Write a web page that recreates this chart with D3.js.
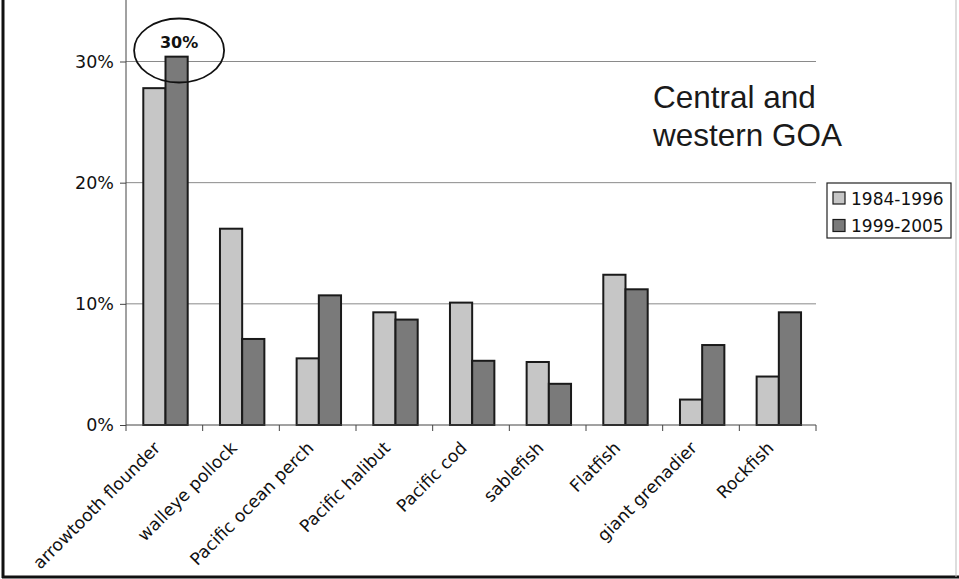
<!DOCTYPE html>
<html>
<head>
<meta charset="utf-8">
<script src="https://cdn.jsdelivr.net/npm/d3@7"></script>
<style>
  html, body { margin: 0; padding: 0; background: #fff; }
  svg { display: block; }
</style>
</head>
<body>
<svg id="chart" width="959" height="579"></svg>
<script>
// Species groups along the x axis
const categories = ["arrowtooth flounder", "walleye pollock", "Pacific ocean perch", "Pacific halibut",
  "Pacific cod", "sablefish", "Flatfish", "giant grenadier", "Rockfish"];
// Share of diet (%) per period
const period1 = [27.8, 16.2, 5.5, 9.3, 10.1, 5.2, 12.4, 2.1, 4.0];
const period2 = [30.4, 7.1, 10.7, 8.7, 5.3, 3.4, 11.2, 6.6, 9.3];
const seriesNames = ["1984-1996", "1999-2005"];
const yTicks = [0, 10, 20, 30];
const calloutLabel = "30%";
const regionLines = ["Central and", "western GOA"];

const svg = d3.select("#chart");
const fillColors = ["#c6c6c6", "#7a7a7a"];
const font = "'DejaVu Sans', Verdana, sans-serif";

// Outer frame
svg.append("line").attr("x1", 3).attr("x2", 3).attr("y1", 0).attr("y2", 578)
  .attr("stroke", "#111").attr("stroke-width", 3);
svg.append("line").attr("x1", 2).attr("x2", 959).attr("y1", 577).attr("y2", 577)
  .attr("stroke", "#111").attr("stroke-width", 3);
svg.append("line").attr("x1", 956).attr("x2", 956).attr("y1", 0).attr("y2", 577)
  .attr("stroke", "#bbb").attr("stroke-width", 1);

// One band per category, two bars inside each band
const x = d3.scaleBand().domain(categories).range([126, 816]).padding(0);
const xGroup = d3.scaleBand().domain([0, 1]).range([17.3, 61.7]);
const y = d3.scaleLinear().domain([0, 30]).range([425, 61.5]);

// Gridlines
svg.append("g").selectAll("line").data(yTicks.filter(d => d > 0)).join("line")
  .attr("x1", 126).attr("x2", 816)
  .attr("y1", d => y(d)).attr("y2", d => y(d))
  .attr("stroke", "#8a8a8a").attr("stroke-width", 1);

// Bars
const data = categories.map((c, i) => ({ c, vals: [period1[i], period2[i]] }));
const groups = svg.append("g").selectAll("g").data(data).join("g")
  .attr("transform", d => `translate(${x(d.c)},0)`);
groups.selectAll("rect").data(d => d.vals.map((v, k) => ({ v, k }))).join("rect")
  .attr("x", d => xGroup(d.k))
  .attr("width", xGroup.bandwidth())
  .attr("y", d => y(d.v))
  .attr("height", d => y(0) - y(d.v))
  .attr("fill", d => fillColors[d.k])
  .attr("stroke", "#1a1a1a").attr("stroke-width", 2);

// Y axis
const yAxis = d3.axisLeft(y).tickValues(yTicks).tickFormat(d => d + "%").tickSize(6).tickPadding(6);
const gy = svg.append("g").attr("transform", "translate(126,0)").call(yAxis);
gy.select(".domain").attr("d", "M0,0V425").attr("stroke", "#444");
gy.selectAll(".tick line").attr("stroke", "#444");
gy.selectAll(".tick text").attr("font-family", font).attr("font-size", 17.5).attr("fill", "#111");

// X axis with ticks on category boundaries
const xAxisG = svg.append("g").attr("transform", "translate(0,425)");
xAxisG.append("line").attr("x1", 126).attr("x2", 816).attr("stroke", "#444");
xAxisG.selectAll(".bt").data(categories.map(c => x(c)).concat([816])).join("line")
  .attr("x1", d => d).attr("x2", d => d)
  .attr("y1", 0).attr("y2", 6).attr("stroke", "#444");
xAxisG.selectAll("text").data(categories).join("text")
  .attr("transform", d => `translate(${x(d) + x.bandwidth() / 2 - 3},24) rotate(-45)`)
  .attr("text-anchor", "end")
  .attr("font-family", font).attr("font-size", 17.2).attr("fill", "#111")
  .text(d => d);

// Callout on the tallest bar
const topX = x(categories[0]) + xGroup(1) + xGroup.bandwidth() / 2 + 2.5;
svg.append("ellipse").attr("cx", topX).attr("cy", y(30) - 11).attr("rx", 45).attr("ry", 32)
  .attr("fill", "none").attr("stroke", "#111").attr("stroke-width", 1.8);
svg.append("text").attr("x", topX).attr("y", y(30) - 13.5)
  .attr("text-anchor", "middle").attr("font-family", font).attr("font-weight", "bold")
  .attr("font-size", 16).attr("fill", "#111").text(calloutLabel);

// Region annotation
svg.append("g").selectAll("text").data(regionLines).join("text")
  .attr("x", 653).attr("y", (d, i) => 108 + i * 38.4)
  .attr("font-family", "'Liberation Sans', Arial, sans-serif").attr("font-size", 31.5)
  .attr("fill", "#1a1a1a").text(d => d);

// Legend
const lg = svg.append("g").attr("transform", "translate(827,183)");
lg.append("rect").attr("width", 124).attr("height", 55).attr("fill", "#fff")
  .attr("stroke", "#222").attr("stroke-width", 1.2);
const items = lg.selectAll(".item").data(seriesNames).join("g")
  .attr("transform", (d, i) => `translate(6,${9 + i * 27.5})`);
items.append("rect").attr("width", 12).attr("height", 12)
  .attr("fill", (d, i) => fillColors[i]).attr("stroke", "#1a1a1a").attr("stroke-width", 1.2);
items.append("text").attr("x", 18).attr("y", 12.5).attr("font-family", font)
  .attr("font-size", 17).attr("fill", "#111").text(d => d);
</script>
</body>
</html>
